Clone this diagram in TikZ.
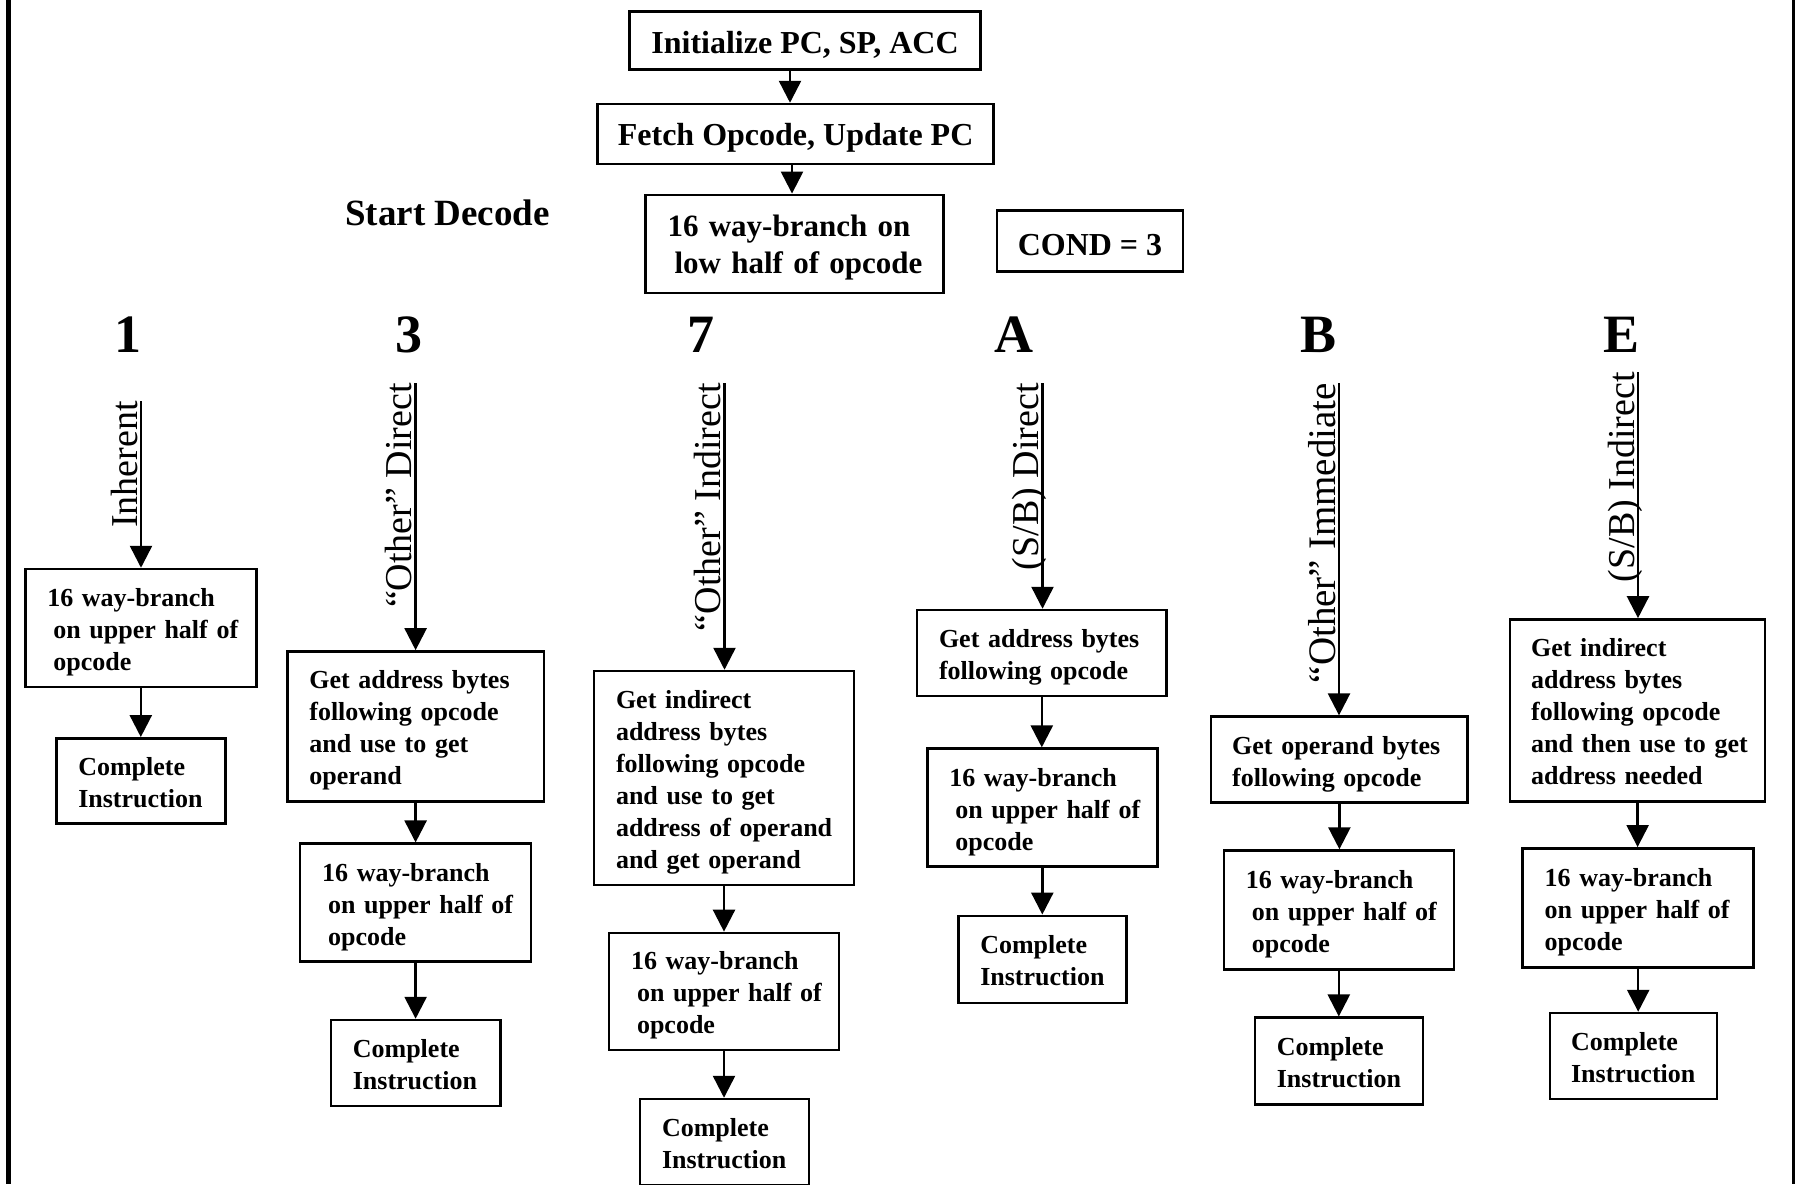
\documentclass[tikz,border=0pt]{standalone}
\usepackage{fontspec}
\setmainfont{Liberation Serif}
\usetikzlibrary{arrows.meta}
\newcommand\dn[1]{\raisebox{-4pt}[\height][\depth]{#1}}
\newcommand\lns[1]{\dn{\begin{tabular}{@{}l@{}}#1\end{tabular}}}
\newcommand\waybr{\lns{16 way-branch\\\hspace*{6pt}on upper half of\\\hspace*{6pt}opcode}}
\newcommand\cinstr{\lns{Complete\\Instruction}}
\begin{document}
\begin{tikzpicture}[x=1pt,y=-1pt,
  bx/.style={draw, line width=2.5pt, inner sep=0pt, align=left, font=\bfseries\fontsize{26}{32}\selectfont},
  topbx/.style={draw, line width=2.5pt, inner sep=0pt, align=center, font=\bfseries\fontsize{32}{37}\selectfont},
  hdr/.style={inner sep=0pt, anchor=base, font=\bfseries\fontsize{54}{60}\selectfont},
  vlab/.style={inner sep=0pt, rotate=90, anchor=base east, font=\fontsize{38}{44}\selectfont},
  arr/.style={line width=2.5pt, -{Triangle[length=22pt,width=22pt]}},
  edge/.style={line width=#1}
]
\useasboundingbox (0,0) rectangle (1795,1184);
\fill[white] (0,0) rectangle (1795,1184);
\draw[edge=5pt] (8.5,0) -- (8.5,1184);
\draw[edge=3pt] (1793.5,0) -- (1793.5,1184);

% top part
\node[topbx, minimum width=351pt, minimum height=58pt] (init) at (805,40.6) {\dn{Initialize PC, SP, ACC}};
\node[topbx, minimum width=396pt, minimum height=60pt] (fetch) at (795.6,134) {\dn{Fetch Opcode, Update PC}};
\node[bx, font=\bfseries\fontsize{31}{37}\selectfont, minimum width=298pt, minimum height=98pt, text width=254pt] (low) at (794.5,243.8) {\lns{16 way-branch on\\\hspace*{7pt}low half of opcode}};
\node[topbx, minimum width=186pt, minimum height=61pt] (cond) at (1090,241) {\dn{COND = 3}};
\node[inner sep=0pt, font=\bfseries\fontsize{37}{42}\selectfont] (sd) at (447.6,213) {Start Decode};
\coordinate (ax1) at (790,0);
\coordinate (ax2) at (792,0);
\draw[arr] (init.south -| ax1) -- (fetch.north -| ax1);
\draw[arr] (fetch.south -| ax2) -- (low.north -| ax2);

% headers
\node[hdr] (h1) at (128.2,352) {1};
\node[hdr] (h3) at (408.7,352) {3};
\node[hdr] (h7) at (700.6,352) {7};
\node[hdr] (hA) at (1014.3,352) {A};
\node[hdr] (hB) at (1318.8,352) {B};
\node[hdr] (hE) at (1621,352) {E};

% column tops
\coordinate (t1) at (141,401);
\coordinate (t3) at (415.6,383);
\coordinate (t7) at (724.5,383);
\coordinate (tA) at (1042.5,383);
\coordinate (tB) at (1339,383);
\coordinate (tE) at (1638,372);
\node[vlab] (l1) at (137,401) {Inherent};
\node[vlab] (l3) at (411.6,383) {``Other'' Direct};
\node[vlab] (l7) at (720.5,383) {``Other'' Indirect};
\node[vlab] (lA) at (1038.5,383) {(S/B) Direct};
\node[vlab, font=\fontsize{39}{44}\selectfont] (lB) at (1335,383) {``Other'' Immediate};
\node[vlab] (lE) at (1634,372) {(S/B) Indirect};

% column 1
\node[bx, minimum width=231pt, minimum height=118pt, text width=187pt] (b1a) at (140.8,628) {\waybr};
\node[bx, minimum width=169pt, minimum height=85pt, text width=125pt] (b1b) at (140.8,780.8) {\cinstr};
% column 3
\node[bx, minimum width=256.5pt, minimum height=150pt, text width=212.5pt] (b3a) at (415.6,726.4) {\lns{Get address bytes\\following opcode\\and use to get\\operand}};
\node[bx, minimum width=231pt, minimum height=118pt, text width=187pt] (b3b) at (415.6,902.7) {\waybr};
\node[bx, minimum width=169.5pt, minimum height=86pt, text width=125.5pt] (b3c) at (415.6,1063) {\cinstr};
% column 7
\node[bx, minimum width=260pt, minimum height=214pt, text width=216pt] (b7a) at (724,778) {\lns{Get indirect\\address bytes\\following opcode\\and use to get\\address of operand\\and get operand}};
\node[bx, minimum width=230pt, minimum height=117pt, text width=186pt] (b7b) at (724,991.4) {\waybr};
\node[bx, minimum width=169pt, minimum height=86pt, text width=125pt] (b7c) at (724.5,1142) {\cinstr};
% column A
\node[bx, minimum width=249.6pt, minimum height=86pt, text width=205.6pt] (bAa) at (1041.8,653) {\lns{Get address bytes\\following opcode}};
\node[bx, minimum width=230pt, minimum height=118pt, text width=186pt] (bAb) at (1042.3,807.6) {\waybr};
\node[bx, minimum width=168pt, minimum height=87pt, text width=124pt] (bAc) at (1042.3,959.3) {\cinstr};
% column B
\node[bx, minimum width=256.4pt, minimum height=86pt, text width=214.4pt] (bBa) at (1339.4,759.6) {\lns{Get operand bytes\\following opcode}};
\node[bx, minimum width=230pt, minimum height=119pt, text width=186pt] (bBb) at (1338.8,910) {\waybr};
\node[bx, minimum width=168pt, minimum height=87pt, text width=124pt] (bBc) at (1338.8,1061.2) {\cinstr};
% column E
\node[bx, minimum width=255pt, minimum height=182pt, text width=213pt] (bEa) at (1637.6,710.4) {\lns{Get indirect\\address bytes\\following opcode\\and then use to get\\address needed}};
\node[bx, minimum width=231pt, minimum height=119pt, text width=187pt] (bEb) at (1638.2,907.8) {\lns{16 way-branch\\on upper half of\\opcode}};
\node[bx, minimum width=167pt, minimum height=86pt, text width=125pt] (bEc) at (1633.6,1056) {\cinstr};

% connectors
\draw[arr] (t1) -- (t1 |- b1a.north);
\draw[arr] (b1a.south) -- (b1a.south |- b1b.north);
\draw[arr] (t3) -- (t3 |- b3a.north);
\draw[arr] (b3a.south) -- (b3a.south |- b3b.north);
\draw[arr] (b3b.south) -- (b3b.south |- b3c.north);
\draw[arr] (t7) -- (t7 |- b7a.north);
\draw[arr] (b7a.south) -- (b7a.south |- b7b.north);
\draw[arr] (b7b.south) -- (b7b.south |- b7c.north);
\draw[arr] (tA) -- (tA |- bAa.north);
\draw[arr] (bAa.south) -- (bAa.south |- bAb.north);
\draw[arr] (bAb.south) -- (bAb.south |- bAc.north);
\draw[arr] (tB) -- (tB |- bBa.north);
\draw[arr] (bBa.south) -- (bBa.south |- bBb.north);
\draw[arr] (bBb.south) -- (bBb.south |- bBc.north);
\draw[arr] (tE) -- (tE |- bEa.north);
\draw[arr] (bEa.south) -- (bEa.south |- bEb.north);
\draw[arr] (bEb.south) -- (bEb.south |- bEc.north);
\end{tikzpicture}
\end{document}
